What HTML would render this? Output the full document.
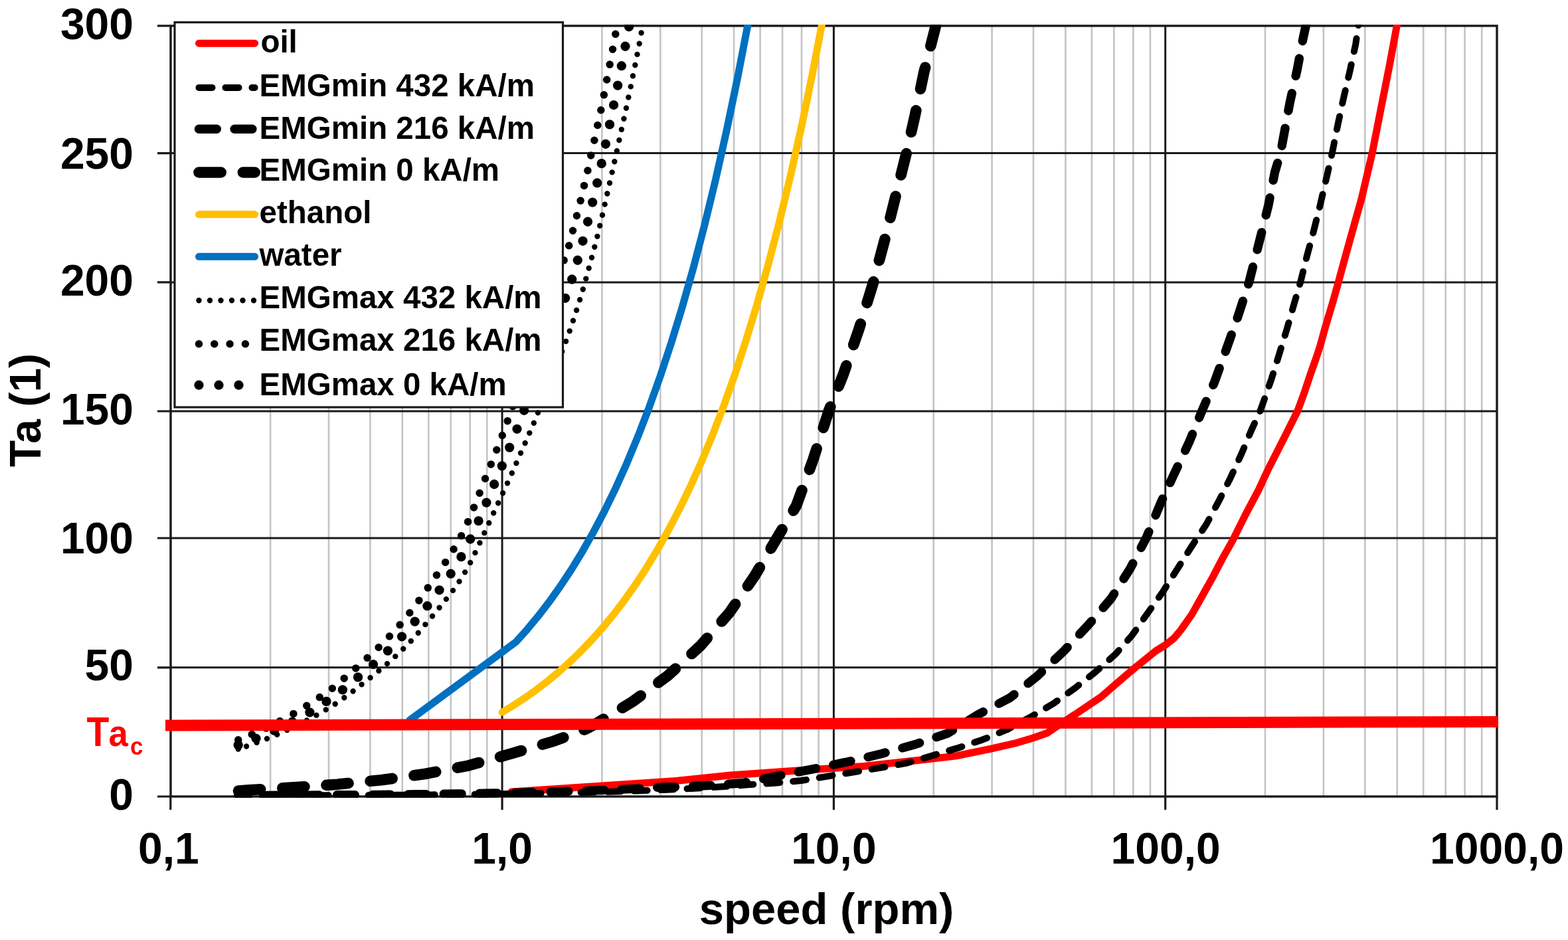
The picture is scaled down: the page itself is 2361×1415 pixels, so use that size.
<!DOCTYPE html>
<html><head><meta charset="utf-8"><style>html,body{margin:0;padding:0;background:#fff;overflow:hidden}svg{display:block}</style></head>
<body><svg width="2361" height="1415" viewBox="0 0 2361 1415">
<defs><clipPath id="pc"><rect x="255.3" y="37.0" width="2000.4" height="1163.6999999999998"/></clipPath></defs>
<rect width="2361" height="1415" fill="#fff"/>
<path d="M407.1 38.9V1199.0 M495.0 38.9V1199.0 M557.4 38.9V1199.0 M605.8 38.9V1199.0 M645.3 38.9V1199.0 M678.8 38.9V1199.0 M707.7 38.9V1199.0 M733.3 38.9V1199.0 M906.4 38.9V1199.0 M994.3 38.9V1199.0 M1056.7 38.9V1199.0 M1105.1 38.9V1199.0 M1144.6 38.9V1199.0 M1178.1 38.9V1199.0 M1207.0 38.9V1199.0 M1232.6 38.9V1199.0 M1405.7 38.9V1199.0 M1493.6 38.9V1199.0 M1556.0 38.9V1199.0 M1604.4 38.9V1199.0 M1643.9 38.9V1199.0 M1677.4 38.9V1199.0 M1706.3 38.9V1199.0 M1731.9 38.9V1199.0 M1905.0 38.9V1199.0 M1992.9 38.9V1199.0 M2055.3 38.9V1199.0 M2103.7 38.9V1199.0 M2143.2 38.9V1199.0 M2176.7 38.9V1199.0 M2205.6 38.9V1199.0 M2231.2 38.9V1199.0" stroke="#c4c4c4" stroke-width="2.6" fill="none"/>
<path d="M756.1 38.9V1199.0 M1255.4 38.9V1199.0 M1754.7 38.9V1199.0 M257.0 1004.8H2254.0 M257.0 810.0H2254.0 M257.0 619.0H2254.0 M257.0 424.9H2254.0 M257.0 230.6H2254.0" stroke="#1a1a1a" stroke-width="3" fill="none"/>
<rect x="257.0" y="38.9" width="1997.0" height="1160.1" fill="none" stroke="#1a1a1a" stroke-width="3.4"/>
<path d="M237 1199.0H257.0 M237 1004.8H257.0 M237 810.0H257.0 M237 619.0H257.0 M237 424.9H257.0 M237 230.6H257.0 M237 38.9H257.0 M256.8 1199.0V1219 M756.1 1199.0V1219 M1255.4 1199.0V1219 M1754.7 1199.0V1219 M2254.0 1199.0V1219" stroke="#1a1a1a" stroke-width="3.2" fill="none"/>
<g font-family="&quot;Liberation Sans&quot;, Arial, sans-serif" font-weight="bold" font-size="66" fill="#000">
<text x="201" y="59.2" text-anchor="end">300</text>
<text x="201" y="253.6" text-anchor="end">250</text>
<text x="201" y="444.9" text-anchor="end">200</text>
<text x="201" y="639.1" text-anchor="end">150</text>
<text x="201" y="833.4" text-anchor="end">100</text>
<text x="201" y="1024.1" text-anchor="end">50</text>
<text x="201" y="1219.2" text-anchor="end">0</text>
<text x="253.8" y="1300" text-anchor="middle">0,1</text>
<text x="756.1" y="1300" text-anchor="middle">1,0</text>
<text x="1255.4" y="1300" text-anchor="middle">10,0</text>
<text x="1755.2" y="1300" text-anchor="middle">100,0</text>
<text x="2254.0" y="1300" text-anchor="middle">1000,0</text>
<text x="1244.6" y="1390.5" text-anchor="middle" font-size="67">speed (rpm)</text>
<text transform="translate(61,617.5) rotate(-90)" text-anchor="middle">Ta (1)</text>
</g>
<g font-family="&quot;Liberation Sans&quot;, Arial, sans-serif" font-weight="bold" fill="#f00"><text transform="translate(130.4,1123) scale(0.894,1)" font-size="62">T</text><text transform="translate(163.4,1122.6) scale(0.943,1)" font-size="55.8">a</text><text transform="translate(196.1,1136.4) scale(0.936,1)" font-size="37.3">c</text></g>
<g clip-path="url(#pc)" fill="none" stroke-linejoin="round">
<path d="M770.0 1192.0 L1020.0 1175.3 L1100.0 1167.0 L1200.0 1160.0 L1300.0 1153.5 L1400.0 1142.5 L1440.0 1137.9 L1493.4 1126.9 L1531.5 1118.1 L1554.3 1111.2 L1577.2 1103.2 L1595.0 1091.0 L1613.4 1078.7 L1621.3 1073.8 L1657.9 1049.1 L1680.6 1029.3 L1709.8 1004.5 L1740.5 979.8 L1755.1 970.8 L1767.9 960.6 L1778.0 948.5 L1794.9 924.4 L1810.7 896.2 L1826.6 867.9 L1841.3 839.6 L1856.0 813.6 L1876.2 773.1 L1894.3 739.2 L1910.1 705.2 L1924.3 677.5 L1938.2 650.0 L1953.8 618.8 L1964.3 590.1 L1973.3 563.0 L1981.3 540.4 L1988.0 520.0 L1995.6 492.3 L2006.8 455.2 L2015.4 424.3 L2026.5 383.5 L2038.9 339.0 L2050.0 299.5 L2059.5 259.0 L2066.2 230.5 L2079.5 162.5 L2091.8 100.7 L2103.3 38.8 L2106.0 24.0" stroke="#ff0000" stroke-width="11" stroke-linecap="round"/>
<path d="M358.7 1197.7 L379.4 1197.7 L400.1 1197.6 L420.7 1197.6 L441.4 1197.5 L462.1 1197.4 L482.7 1197.3 L503.4 1197.3 L524.1 1197.2 L544.7 1197.1 L565.4 1196.9 L586.1 1196.8 L606.7 1196.7 L627.4 1196.5 L648.1 1196.4 L668.7 1196.2 L689.4 1196.0 L710.1 1195.7 L730.7 1195.5 L751.4 1195.2 L772.1 1194.9 L792.7 1194.6 L813.4 1194.2 L834.1 1193.8 L854.7 1193.4 L875.4 1192.9 L896.1 1192.4 L916.7 1191.8 L937.4 1191.2 L958.1 1190.5 L978.7 1189.7 L999.4 1188.9 L1020.1 1187.9 L1040.7 1186.9 L1061.4 1185.8 L1082.1 1184.5 L1102.7 1183.1 L1125.4 1181.3 L1166.1 1178.8 L1206.7 1175.0 L1246.1 1168.6 L1285.5 1162.3 L1324.9 1155.9 L1364.3 1148.9 L1402.8 1137.8 L1440.9 1126.4 L1479.0 1113.7 L1515.9 1098.5 L1554.0 1078.1 L1585.9 1059.3 L1617.6 1036.6 L1649.2 1011.8 L1679.8 984.6 L1704.6 956.4 L1728.4 922.5 L1751.0 890.8 L1772.5 856.9 L1794.0 823.0 L1816.6 789.0 L1835.7 753.4 L1852.7 719.4 L1869.6 682.7 L1883.7 648.8 L1897.9 617.7 L1914.8 569.6 L1926.2 532.9 L1937.5 496.1 L1948.8 456.5 L1958.7 422.6 L1967.7 386.2 L1977.6 349.4 L1987.5 309.9 L1997.4 267.5 L2005.8 230.7 L2014.3 188.3 L2022.8 148.7 L2032.7 106.3 L2041.2 66.7 L2045.4 38.5 L2047.0 25.0" stroke="#000" stroke-width="10" stroke-linecap="round" stroke-dasharray="20 20" stroke-dashoffset="4"/>
<path d="M358.7 1197.5 L379.4 1197.4 L400.1 1197.4 L420.7 1197.3 L441.4 1197.2 L462.1 1197.1 L482.7 1197.0 L503.4 1196.8 L524.1 1196.7 L544.7 1196.6 L565.4 1196.4 L586.1 1196.2 L606.7 1196.0 L627.4 1195.8 L648.1 1195.5 L668.7 1195.3 L689.4 1195.0 L710.1 1194.7 L730.7 1194.3 L751.4 1193.9 L772.1 1193.5 L792.7 1193.0 L813.4 1192.5 L834.1 1191.9 L854.7 1191.3 L875.4 1190.6 L896.1 1189.9 L916.7 1189.0 L937.4 1188.1 L958.1 1187.1 L978.7 1186.0 L999.4 1184.8 L1012.7 1184.9 L1068.6 1182.3 L1119.4 1178.5 L1171.2 1168.0 L1223.3 1157.8 L1275.3 1147.0 L1327.0 1134.7 L1378.2 1120.5 L1427.0 1103.8 L1472.7 1075.6 L1521.0 1050.2 L1562.2 1017.4 L1601.8 980.1 L1637.9 941.7 L1673.0 901.0 L1701.2 856.9 L1726.1 809.4 L1748.1 756.2 L1767.8 713.8 L1790.5 665.7 L1810.2 617.7 L1828.6 575.3 L1847.0 524.4 L1864.0 476.3 L1880.9 424.0 L1897.0 360.7 L1909.7 309.9 L1919.6 259.0 L1928.1 230.7 L1942.2 154.4 L1953.5 103.5 L1962.0 58.3 L1966.3 38.5 L1969.0 25.0" stroke="#000" stroke-width="13.4" stroke-linecap="round" stroke-dasharray="26.8 26.8" stroke-dashoffset="12"/>
<path d="M359.0 1190.5 L374.5 1189.3 L441.2 1185.4 L507.9 1180.7 L573.7 1174.3 L639.8 1165.0 L705.0 1152.6 L768.8 1134.8 L834.0 1115.6 L881.4 1097.8 L895.2 1090.6 L951.8 1056.7 L1005.5 1017.1 L1054.9 971.9 L1098.2 922.4 L1136.1 867.3 L1169.4 810.8 L1199.0 761.3 L1224.2 692.4 L1248.0 618.2 L1269.2 565.2 L1293.1 496.3 L1314.3 427.5 L1332.8 358.6 L1348.7 295.0 L1364.6 231.4 L1377.9 173.1 L1391.1 109.5 L1409.0 39.0 L1412.0 25.0" stroke="#000" stroke-width="16.6" stroke-linecap="round" stroke-dasharray="33.2 33.2"/>
<path d="M756.1 1072.1 L772.8 1062.1 L789.5 1051.2 L806.2 1039.4 L822.9 1026.7 L839.5 1013.0 L856.2 998.2 L872.9 982.1 L889.6 964.9 L906.3 946.2 L923.0 926.0 L939.7 904.3 L956.4 880.7 L973.1 855.4 L989.7 827.9 L1006.4 798.3 L1023.1 766.3 L1039.8 731.8 L1056.5 694.4 L1073.2 654.1 L1089.9 610.6 L1106.6 563.6 L1123.2 512.8 L1139.9 458.0 L1156.6 398.8 L1173.3 334.9 L1190.0 265.8 L1206.7 191.2 L1223.4 110.6 L1240.1 23.6 L1256.8 -70.3" stroke="#ffc000" stroke-width="11" stroke-linecap="round"/>
<path d="M617.0 1084.0 L776.8 966.4 L793.5 947.8 L810.1 927.8 L826.8 906.2 L843.5 882.8 L860.2 857.6 L876.9 830.3 L893.6 800.9 L910.3 769.1 L927.0 734.8 L943.7 697.7 L960.3 657.7 L977.0 614.4 L993.7 567.7 L1010.4 517.3 L1027.1 462.8 L1043.8 404.0 L1060.5 340.4 L1077.2 271.8 L1093.8 197.7 L1110.5 117.7 L1127.2 31.2 L1143.9 -62.1" stroke="#0070c0" stroke-width="11" stroke-linecap="round"/>
<path d="M358.7 1127.6 L365.1 1125.5 L371.5 1123.3 L377.9 1121.0 L384.4 1118.7 L390.8 1116.3 L397.2 1113.9 L403.6 1111.3 L410.0 1108.7 L416.4 1106.1 L422.8 1103.3 L429.2 1100.4 L435.6 1097.5 L442.0 1094.5 L448.5 1091.4 L454.9 1088.2 L461.3 1084.9 L467.7 1081.5 L474.1 1078.0 L481.5 1073.8 L495.9 1065.3 L509.9 1056.4 L523.4 1046.6 L536.6 1036.8 L549.4 1026.4 L562.6 1016.3 L575.5 1005.6 L588.0 994.8 L600.3 983.5 L612.2 971.9 L623.9 959.6 L641.7 938.6 L659.5 917.3 L676.8 895.8 L686.9 882.5 L696.0 868.5 L704.5 854.0 L712.2 839.1 L719.3 824.1 L726.2 808.9 L733.2 793.8 L740.2 778.7 L747.2 763.6 L754.2 748.6 L761.2 733.6 L768.0 718.6 L774.8 703.3 L781.4 688.0 L788.2 672.7 L794.8 657.5 L801.6 642.2 L820.2 596.0 L826.6 580.1 L833.1 563.8 L838.5 549.6 L856.2 503.0 L861.5 487.1 L866.7 471.3 L871.8 455.5 L876.6 439.7 L881.2 423.6 L885.6 407.6 L890.0 391.6 L894.4 375.3 L898.6 359.3 L902.5 342.9 L906.3 326.9 L910.0 310.6 L913.7 294.4 L917.4 278.1 L921.1 261.8 L924.8 245.6 L928.4 229.3 L931.9 213.1 L935.4 196.9 L939.0 180.7 L942.6 164.4 L946.0 148.0 L949.5 131.7 L952.7 115.5 L956.1 99.3 L959.3 83.0 L962.5 66.6 L965.5 50.2 L970.8 20.7" stroke="#000" stroke-width="8.4" stroke-linecap="round" stroke-dasharray="0 16.5" stroke-dashoffset="3.5"/>
<path d="M358.7 1113.8 L365.1 1111.3 L371.5 1108.7 L377.9 1106.0 L384.4 1103.2 L390.8 1100.4 L397.2 1097.5 L403.6 1094.4 L410.0 1091.3 L416.4 1088.1 L422.8 1084.8 L429.2 1081.4 L435.6 1077.9 L442.9 1073.8 L462.5 1061.9 L481.8 1049.3 L500.8 1035.9 L524.3 1016.0 L547.6 995.4 L570.3 974.3 L586.5 957.8 L602.1 940.6 L616.8 922.6 L630.9 903.9 L644.4 884.6 L657.6 865.4 L670.7 846.3 L683.2 826.6 L694.7 806.3 L704.7 785.2 L713.6 763.8 L722.1 742.3 L730.5 720.7 L739.2 699.2 L747.7 677.6 L756.2 655.8 L790.8 560.1 L797.2 542.8 L803.7 525.0 L810.1 506.8 L816.5 488.0 L824.2 464.8 L856.9 369.2 L862.6 347.0 L868.5 324.5 L874.1 302.2 L879.4 280.0 L884.8 257.4 L889.7 234.4 L895.0 210.9 L899.9 188.0 L905.0 165.1 L909.4 142.8 L913.7 120.0 L918.1 97.3 L922.5 74.4 L926.8 51.3 L932.3 21.8" stroke="#000" stroke-width="11.5" stroke-linecap="round" stroke-dasharray="0 23.3" stroke-dashoffset="1.1"/>
<path d="M358.7 1121.6 L365.1 1119.3 L371.5 1117.0 L377.9 1114.5 L384.4 1112.0 L390.8 1109.4 L397.2 1106.8 L403.6 1104.0 L410.0 1101.2 L416.4 1098.3 L422.8 1095.3 L429.2 1092.2 L435.6 1089.0 L442.0 1085.8 L448.5 1082.4 L454.9 1078.9 L461.3 1075.3 L468.6 1071.1 L493.4 1054.6 L517.6 1037.1 L540.6 1018.1 L563.5 998.8 L585.3 978.3 L606.1 957.2 L625.6 934.5 L644.3 911.1 L662.5 887.0 L679.5 862.6 L695.0 837.2 L708.6 810.7 L720.9 783.4 L732.8 755.8 L744.5 728.2 L756.2 700.5 L767.6 672.7 L778.9 644.9 L807.2 570.0 L813.6 553.3 L820.1 536.1 L826.5 518.5 L834.8 494.9 L861.5 419.7 L869.9 391.3 L877.6 362.6 L885.1 333.5 L892.3 304.1 L899.3 275.0 L905.9 245.6 L912.1 216.0 L918.2 186.5 L924.2 157.4 L930.2 128.4 L935.9 99.0 L941.5 69.7 L947.0 40.6 L952.5 11.1" stroke="#000" stroke-width="14.3" stroke-linecap="round" stroke-dasharray="0 30.0" stroke-dashoffset="1.4"/>
<g fill="#000" stroke="none"><circle cx="358.7" cy="1127.6" r="4.2"/><circle cx="358.7" cy="1113.8" r="5.75"/><circle cx="358.7" cy="1121.6" r="7.15"/></g>
</g>
<path d="M249 1092 L2256 1086.5" stroke="#f00" stroke-width="17" fill="none"/>
<rect x="263" y="33.6" width="584.5" height="579.4" fill="#fff" stroke="#1a1a1a" stroke-width="3.2"/>
<g fill="none" stroke-linecap="round">
<path d="M299.5 65.2H383.6" stroke="#ff0000" stroke-width="11"/>
<path d="M299.5 131.9H383.6" stroke="#000" stroke-width="10" stroke-dasharray="20 20"/>
<path d="M299.5 194.3H383.6" stroke="#000" stroke-width="13.4" stroke-dasharray="26.8 26.8"/>
<path d="M299.5 259.5H383.6" stroke="#000" stroke-width="16.6" stroke-dasharray="33.2 33.2"/>
<path d="M299.5 322.8H383.6" stroke="#ffc000" stroke-width="11"/>
<path d="M299.5 386.3H383.6" stroke="#0070c0" stroke-width="11"/>
<path d="M299.5 452.2H383.6" stroke="#000" stroke-width="8.4" stroke-dasharray="0 16.5"/>
<path d="M299.5 517.7H383.6" stroke="#000" stroke-width="11.5" stroke-dasharray="0 23.3"/>
<path d="M299.5 579.7H383.6" stroke="#000" stroke-width="14.3" stroke-dasharray="0 30.0"/>
</g><g font-family="&quot;Liberation Sans&quot;, Arial, sans-serif" font-weight="bold" font-size="47.5" fill="#000">
<text x="392.4" y="79.2">oil</text>
<text x="390.5" y="145.3">EMGmin 432 kA/m</text>
<text x="390.5" y="208.8">EMGmin 216 kA/m</text>
<text x="390.5" y="272.3">EMGmin 0 kA/m</text>
<text x="390.5" y="335.9">ethanol</text>
<text x="390.5" y="399.5">water</text>
<text x="390.5" y="464.3">EMGmax 432 kA/m</text>
<text x="390.5" y="528.0">EMGmax 216 kA/m</text>
<text x="390.5" y="594.6">EMGmax 0 kA/m</text>
</g>
</svg></body></html>
